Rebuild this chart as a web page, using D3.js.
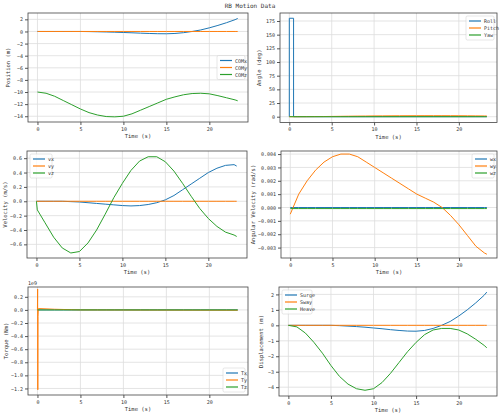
<!DOCTYPE html>
<html><head><meta charset="utf-8">
<script src="https://cdn.jsdelivr.net/npm/d3@7"></script>
<style>body{margin:0;background:#fff}text{font-family:"DejaVu Sans Mono",monospace;fill:#333}</style>
</head><body><svg id="c" width="500" height="416"></svg>
<script>
// time samples (s)
const T = [0,1,2,3,4,5,6,7,8,9,10,11,12,13,14,15,16,17,18,19,20,21,22,23,23.3];
const zeros = T.map(() => 0);

const comX = [0,0,0,0,0,0,-0.02,-0.05,-0.08,-0.12,-0.17,-0.22,-0.28,-0.33,-0.37,-0.38,-0.33,-0.2,0,0.25,0.6,1.0,1.45,1.95,2.15];
const comZ = [-10,-10.2,-10.7,-11.4,-12.1,-12.8,-13.4,-13.8,-14.05,-14.1,-14.0,-13.6,-13.0,-12.4,-11.8,-11.2,-10.8,-10.45,-10.25,-10.2,-10.3,-10.6,-10.95,-11.3,-11.45];

const tRoll = [0,0,0.5,0.5,23.3];
const roll = [0,180,180,0,0];
const pitch = [0,0,0.1,0.2,0.3,0.5,0.7,0.9,1.1,1.2,1.4,1.5,1.6,1.7,1.75,1.8,1.85,1.85,1.85,1.8,1.75,1.65,1.5,1.35,1.3];

const vx = [0,0,0,0,-0.005,-0.01,-0.02,-0.03,-0.04,-0.05,-0.06,-0.065,-0.06,-0.045,-0.02,0.02,0.08,0.16,0.24,0.32,0.4,0.46,0.5,0.51,0.49];
const tVz = [0,0.1,1,2,3,4,5,6,7,8,9,10,11,12,13,14,15,16,17,18,19,20,21,22,23,23.3];
const vz = [0,-0.12,-0.3,-0.5,-0.65,-0.72,-0.7,-0.58,-0.4,-0.18,0.05,0.25,0.43,0.56,0.62,0.62,0.55,0.42,0.25,0.07,-0.1,-0.24,-0.35,-0.43,-0.47,-0.49];

const wy = [-0.0005,0.001,0.002,0.0028,0.0034,0.0038,0.004,0.004,0.0038,0.0034,0.003,0.0026,0.0022,0.0018,0.0014,0.001,0.0007,0.0004,0,-0.0006,-0.0013,-0.0021,-0.0029,-0.0034,-0.0035];
const wz = T.map(() => -0.00008);

const tTy = [0,0.02,0.04,0.06,0.1,0.3,2,5,23.3];
const Ty = [0,0.32,-1.22,-0.1,0.02,0.02,0.01,0,-0.005]; // x1e9

const surge = comX;
const heave = [0,-0.1,-0.5,-1.1,-1.8,-2.6,-3.3,-3.8,-4.1,-4.2,-4.1,-3.7,-3.1,-2.4,-1.7,-1.1,-0.6,-0.3,-0.2,-0.2,-0.3,-0.55,-0.9,-1.3,-1.45];

const C = ["#1f77b4","#ff7f0e","#2ca02c"];
const svg = d3.select("#c");
svg.append("text").attr("x",250).attr("y",8).attr("text-anchor","middle").attr("font-size",6).text("RB Motion Data");

function panel(o) {
  const g = svg.append("g");
  const x = d3.scaleLinear().domain([-1.1,24.5]).range([o.l,o.r]);
  const y = d3.scaleLinear().domain(o.yd).range([o.b,o.t]);
  const yt = o.yticks;
  g.append("g").selectAll("line").data(x.ticks(5)).join("line")
    .attr("x1",x).attr("x2",x).attr("y1",o.t).attr("y2",o.b).attr("stroke","#ddd").attr("stroke-width",0.8);
  g.append("g").selectAll("line").data(yt).join("line")
    .attr("y1",y).attr("y2",y).attr("x1",o.l).attr("x2",o.r).attr("stroke","#ddd").attr("stroke-width",0.8);
  const xa = g.append("g").attr("transform",`translate(0,${o.b})`).call(d3.axisBottom(x).ticks(5).tickSize(3).tickPadding(2));
  const ya = g.append("g").attr("transform",`translate(${o.l},0)`).call(d3.axisLeft(y).tickValues(yt).tickFormat(o.fmt).tickSize(3).tickPadding(2));
  [xa,ya].forEach(a => { a.selectAll("text").attr("font-size",5); a.select(".domain").remove(); a.selectAll("line").attr("stroke","#555"); });
  g.append("rect").attr("x",o.l).attr("y",o.t).attr("width",o.r-o.l).attr("height",o.b-o.t).attr("fill","none").attr("stroke","#444").attr("stroke-width",0.8);
  g.append("text").attr("x",(o.l+o.r)/2).attr("y",o.b+16).attr("text-anchor","middle").attr("font-size",5.5).text("Time (s)");
  g.append("text").attr("transform",`translate(${o.l-(o.ylo||20)},${(o.t+o.b)/2}) rotate(-90)`).attr("text-anchor","middle").attr("font-size",5.5).text(o.ylabel);
  if (o.exp) g.append("text").attr("x",o.l).attr("y",o.t-2).attr("font-size",5).text(o.exp);
  const line = d3.line().x(d => x(d[0])).y(d => y(d[1]));
  o.series.forEach((s,i) => {
    const pts = s.t.map((t,j) => [t,s.v[j]]);
    g.append("path").attr("d",line(pts)).attr("fill","none").attr("stroke",C[i]).attr("stroke-width",1);
  });
  const lw = o.lw, lh = 24;
  let lx = o.leg === "ul" ? o.l+3 : o.r-3-lw;
  let ly = o.leg === "ul" ? o.t+3 : o.leg === "lr" ? o.b-3-lh : o.leg === "mr" ? (o.t+o.b)/2-lh/2 : o.t+3;
  const lg = g.append("g").attr("transform",`translate(${lx},${ly})`);
  lg.append("rect").attr("width",lw).attr("height",lh).attr("fill","#fff").attr("fill-opacity",0.8).attr("stroke","#ccc").attr("stroke-width",0.5).attr("rx",1.5);
  o.series.forEach((s,i) => {
    lg.append("line").attr("x1",3).attr("x2",15).attr("y1",5+i*7).attr("y2",5+i*7).attr("stroke",C[i]).attr("stroke-width",1.2);
    lg.append("text").attr("x",18).attr("y",7+i*7).attr("font-size",5).text(s.name);
  });
}

panel({l:28,r:248,t:13,b:122,yd:[-14.95,3.05],yticks:d3.range(-14,3,2),fmt:d3.format("d"),ylabel:"Position (m)",ylo:18,leg:"mr",lw:28,
  series:[{name:"COMx",t:T,v:comX},{name:"COMy",t:T,v:zeros},{name:"COMz",t:T,v:comZ}]});
panel({l:280,r:497,t:13,b:122.5,yd:[-10.6,189.6],yticks:d3.range(0,176,25),fmt:d3.format("d"),ylabel:"Angle (deg)",ylo:19,leg:"ur",lw:28,
  series:[{name:"Roll",t:tRoll,v:roll},{name:"Pitch",t:T,v:pitch},{name:"Yaw",t:T,v:zeros}]});
panel({l:27,r:247,t:151,b:258,yd:[-0.79,0.7],yticks:[-0.6,-0.4,-0.2,0,0.2,0.4,0.6],fmt:d3.format(".1f"),ylabel:"Velocity (m/s)",ylo:20,leg:"ul",lw:22,
  series:[{name:"vx",t:T,v:vx},{name:"vy",t:T,v:zeros},{name:"vz",t:tVz,v:vz}]});
panel({l:281,r:497,t:151,b:258,yd:[-0.00378,0.00423],yticks:[-0.003,-0.002,-0.001,0,0.001,0.002,0.003,0.004],fmt:d3.format(".3f"),ylabel:"Angular Velocity (rad/s)",ylo:26,leg:"ur",lw:22,
  series:[{name:"wx",t:T,v:zeros},{name:"wy",t:T,v:wy},{name:"wz",t:T,v:wz}]});
panel({l:28,r:248,t:287,b:395,yd:[-1.3,0.35],yticks:[-1.2,-1.0,-0.8,-0.6,-0.4,-0.2,0,0.2],fmt:d3.format(".1f"),ylabel:"Torque (Nm)",ylo:20,leg:"lr",lw:22,exp:"1e9",
  series:[{name:"Tx",t:T,v:zeros},{name:"Ty",t:tTy,v:Ty},{name:"Tz",t:T,v:zeros}]});
panel({l:279,r:497,t:287,b:396,yd:[-4.57,2.48],yticks:[-4,-3,-2,-1,0,1,2],fmt:d3.format("d"),ylabel:"Displacement (m)",ylo:16,leg:"ul",lw:30,
  series:[{name:"Surge",t:T,v:surge},{name:"Sway",t:T,v:zeros},{name:"Heave",t:T,v:heave}]});
</script></body></html>
